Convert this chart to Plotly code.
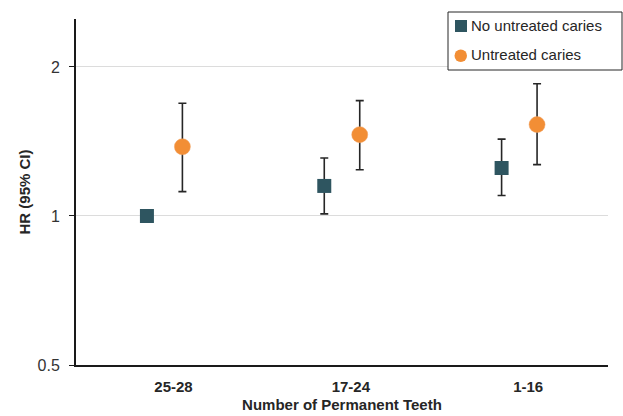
import plotly.graph_objects as go

categories = ["25-28", "17-24", "1-16"]
no_caries_hr = [1.0, 1.15, 1.25]
no_caries_lo = [1.0, 1.01, 1.10]
no_caries_hi = [1.0, 1.31, 1.43]
caries_hr = [1.38, 1.46, 1.53]
caries_lo = [1.12, 1.24, 1.27]
caries_hi = [1.69, 1.71, 1.85]
y_ticks = [0.5, 1, 2]
y_tick_labels = ["0.5", "1", "2"]
series_names = ["No untreated caries", "Untreated caries"]
colors = ["#2E5560", "#F28E35"]

W, H = 623, 416
L, R, T, B = 76, 15, 19, 51
PW, PH = W - L - R, H - T - B
FONT = "Arial, Liberation Sans, sans-serif"
TXT = "#262626"

def px(xp):
    return (xp - L) / PW

def py(yp):
    return (H - B - yp) / PH

offset = 0.1
xpos = list(range(len(categories)))

fig = go.Figure()

def err(hr, lo, hi):
    return dict(type="data", symmetric=False,
                array=[h - v for v, h in zip(hr, hi)],
                arrayminus=[v - l for v, l in zip(hr, lo)],
                color="#262626", thickness=1.6, width=4)

fig.add_trace(go.Scatter(
    x=[x - offset for x in xpos], y=no_caries_hr, mode="markers",
    name=series_names[0], showlegend=False,
    marker=dict(symbol="square", size=14, color=colors[0]),
    error_y=err(no_caries_hr, no_caries_lo, no_caries_hi),
))
fig.add_trace(go.Scatter(
    x=[x + offset for x in xpos], y=caries_hr, mode="markers",
    name=series_names[1], showlegend=False,
    marker=dict(symbol="circle", size=16, color=colors[1],
                line=dict(color="#F0A060", width=0.5)),
    error_y=err(caries_hr, caries_lo, caries_hi),
))

# manual legend
shapes = [
    dict(type="rect", xref="paper", yref="paper",
         x0=px(448), x1=px(622), y0=py(70), y1=py(12),
         line=dict(color="#262626", width=1), fillcolor="white", layer="above"),
    dict(type="rect", xref="paper", yref="paper",
         x0=px(455), x1=px(467), y0=py(32), y1=py(20),
         line=dict(width=0), fillcolor=colors[0], layer="above"),
    dict(type="circle", xref="paper", yref="paper",
         x0=px(454.5), x1=px(467), y0=py(62), y1=py(49.5),
         line=dict(width=0), fillcolor=colors[1], layer="above"),
]
annotations = [
    dict(text=series_names[0], xref="paper", yref="paper", x=px(468.5), y=py(26),
         xanchor="left", yanchor="middle", showarrow=False,
         font=dict(size=15, color=TXT, family=FONT)),
    dict(text=series_names[1], xref="paper", yref="paper", x=px(468.5), y=py(55),
         xanchor="left", yanchor="middle", showarrow=False,
         font=dict(size=15, color=TXT, family=FONT)),
]

fig.update_layout(
    width=W, height=H,
    margin=dict(l=L, r=R, t=T, b=B, autoexpand=False),
    paper_bgcolor="white", plot_bgcolor="white",
    font=dict(family=FONT, color=TXT),
    showlegend=False,
    shapes=shapes, annotations=annotations,
)
fig.update_xaxes(
    range=[-0.5, 2.5], tickvals=[x + 0.05 for x in xpos],
    ticktext=["<b>%s</b>" % c for c in categories],
    showgrid=False, zeroline=False, showline=True, linecolor="#1a1a1a",
    linewidth=2, ticks="", ticklabelstandoff=7,
    tickfont=dict(size=15, color=TXT, family=FONT),
    title=dict(text="<b>Number of Permanent Teeth</b>",
               font=dict(size=15, color=TXT, family=FONT), standoff=5),
)
fig.update_yaxes(
    type="log", range=[-0.30103, 0.39794],
    tickvals=y_ticks, ticktext=y_tick_labels,
    showgrid=True, gridcolor="#dcdcdc", gridwidth=1,
    zeroline=False, showline=True, linecolor="#1a1a1a", linewidth=2,
    ticks="outside", ticklen=5, tickcolor="#1a1a1a", tickwidth=1,
    ticklabelstandoff=6,
    tickfont=dict(size=16, color="#333333", family=FONT),
    title=dict(text="<b>HR (95% CI)</b>",
               font=dict(size=15, color=TXT, family=FONT), standoff=3),
)

fig.write_html("out.html", config={"displayModeBar": False},
               post_script="document.body.style.margin='0';document.body.style.overflow='hidden';")
